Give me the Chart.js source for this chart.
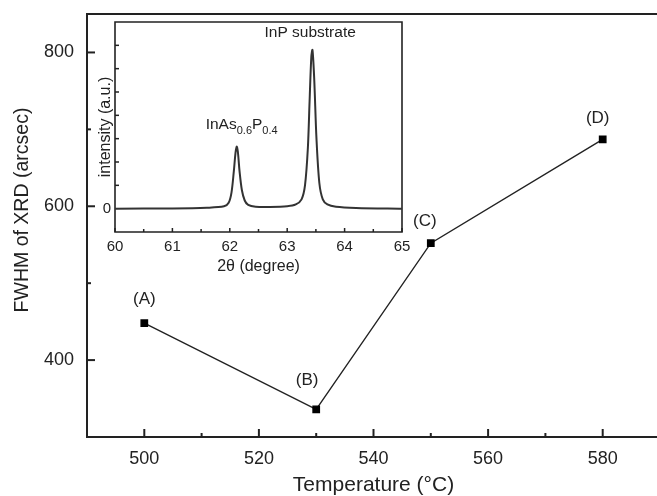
<!DOCTYPE html>
<html>
<head>
<meta charset="utf-8">
<script src="https://cdn.jsdelivr.net/npm/chart.js@4.4.0/dist/chart.umd.min.js"></script>
<style>
  body { margin: 0; background: #fff; overflow: hidden; }
  #wrap { position: relative; width: 660px; height: 496px; }
  #mainBox { position: absolute; left: 0; top: 0; width: 660px; height: 496px; }
  #insetBox { position: absolute; left: 95px; top: 15px; width: 315px; height: 262px; }
</style>
</head>
<body>
<div id="wrap">
  <div id="mainBox"><canvas id="mainChart"></canvas></div>
  <div id="insetBox"><canvas id="insetChart"></canvas></div>
</div>
<script>
// --- main plot data: FWHM vs growth temperature ---
const temps = [500, 530, 550, 580];
const fwhm = [448, 336, 552, 687];
const pointLabels = ["(A)", "(B)", "(C)", "(D)"];

const mainXMajor = [500, 520, 540, 560, 580];
const mainXMinor = [510, 530, 550, 570];
const mainYMajor = [400, 600, 800];
const mainYMinor = [500, 700];

// --- inset data: XRD scan (2theta vs intensity) ---
const twoTheta = [60, 61.0, 61.6, 61.9, 61.98, 62.03, 62.07, 62.1, 62.12, 62.14, 62.17, 62.21, 62.26, 62.32,
  62.45, 62.7, 63.0, 63.15, 63.25, 63.31, 63.36, 63.39, 63.42, 63.44, 63.47, 63.51, 63.56, 63.62, 63.7, 63.85, 64.2, 65];
const intensity = [0, 0.01, 0.04, 0.1, 0.25, 0.7, 1.6, 2.4, 2.66, 2.45, 1.6, 0.8, 0.35, 0.16,
  0.08, 0.07, 0.1, 0.18, 0.4, 1.0, 2.6, 4.6, 6.5, 6.8, 5.6, 3.0, 1.1, 0.4, 0.18, 0.08, 0.03, 0.0];

const insetXMajor = [60, 61, 62, 63, 64, 65];
const insetXMinor = [60.5, 61.5, 62.5, 63.5, 64.5];
const insetYTicks = [1, 2, 3, 4, 5, 6, 7];

const INK = "#222";
const FONT = "'Liberation Sans', Arial, sans-serif";

// keep chart area exactly where the layout padding puts it
const noPad = s => { s.paddingTop = 0; s.paddingBottom = 0; s.paddingLeft = 0; s.paddingRight = 0; };

// draws inward tick marks using the chart's own scales
const inwardTicks = {
  id: "inwardTicks",
  afterDraw(chart, args, o) {
    const ctx = chart.ctx, a = chart.chartArea;
    const xs = chart.scales.x, ys = chart.scales.y;
    ctx.save();
    ctx.strokeStyle = INK;
    ctx.lineWidth = o.width;
    const seg = (x1, y1, x2, y2) => { ctx.beginPath(); ctx.moveTo(x1, y1); ctx.lineTo(x2, y2); ctx.stroke(); };
    o.xMajor.forEach(v => { const p = xs.getPixelForValue(v); seg(p, a.bottom, p, a.bottom - o.majorLen); });
    o.xMinor.forEach(v => { const p = xs.getPixelForValue(v); seg(p, a.bottom, p, a.bottom - o.minorLen); });
    o.yMajor.forEach(v => { const p = ys.getPixelForValue(v); seg(a.left, p, a.left + o.majorLen, p); });
    o.yMinor.forEach(v => { const p = ys.getPixelForValue(v); seg(a.left, p, a.left + o.minorLen, p); });
    ctx.restore();
  }
};

// frame lines (main plot has its right side cut off by the picture)
const frame = {
  id: "frame",
  beforeDatasetsDraw(chart, args, o) {
    const ctx = chart.ctx, a = chart.chartArea;
    ctx.save();
    ctx.strokeStyle = INK;
    ctx.lineWidth = o.width;
    ctx.beginPath();
    if (o.full) {
      ctx.rect(a.left, a.top, a.right - a.left, a.bottom - a.top);
    } else {
      ctx.moveTo(a.right, a.top); ctx.lineTo(a.left, a.top);
      ctx.lineTo(a.left, a.bottom); ctx.lineTo(a.right, a.bottom);
    }
    ctx.stroke();
    ctx.restore();
  }
};

// rotated y title, placed a bit above the middle like the original
const sideTitle = {
  id: "sideTitle",
  afterDraw(chart, args, o) {
    if (!o.text) return;
    const ctx = chart.ctx;
    ctx.save();
    ctx.fillStyle = INK;
    ctx.font = o.size + "px " + FONT;
    ctx.textAlign = "center";
    ctx.textBaseline = "middle";
    ctx.translate(o.x, o.y);
    ctx.rotate(-Math.PI / 2);
    ctx.fillText(o.text, 0, 0);
    ctx.restore();
  }
};

// point labels (A)...(D)
const letterLabels = {
  id: "letterLabels",
  afterDatasetsDraw(chart, args, o) {
    if (!o.texts) return;
    const ctx = chart.ctx;
    const meta = chart.getDatasetMeta(0);
    ctx.save();
    ctx.fillStyle = INK;
    ctx.font = "17px " + FONT;
    ctx.textAlign = "center";
    ctx.textBaseline = "middle";
    meta.data.forEach((pt, i) => {
      const off = o.offsets[i];
      ctx.fillText(o.texts[i], pt.x + off[0], pt.y + off[1]);
    });
    ctx.restore();
  }
};

// peak annotations in the inset
const peakNotes = {
  id: "peakNotes",
  afterDatasetsDraw(chart, args, o) {
    if (!o.on) return;
    const ctx = chart.ctx;
    const xs = chart.scales.x, ys = chart.scales.y;
    ctx.save();
    ctx.fillStyle = INK;
    ctx.textBaseline = "alphabetic";
    ctx.textAlign = "center";
    ctx.font = "15.5px " + FONT;
    ctx.fillText("InP substrate", xs.getPixelForValue(63.4), ys.getPixelForValue(7.35));
    // InAs0.6P0.4 with subscripts
    let x = xs.getPixelForValue(61.58), y = ys.getPixelForValue(3.4);
    ctx.textAlign = "left";
    const parts = [["InAs", 15.5, 0], ["0.6", 11, 5], ["P", 15.5, 0], ["0.4", 11, 5]];
    parts.forEach(p => {
      ctx.font = p[1] + "px " + FONT;
      ctx.fillText(p[0], x, y + p[2]);
      x += ctx.measureText(p[0]).width;
    });
    ctx.restore();
  }
};

Chart.register(inwardTicks, frame, sideTitle, letterLabels, peakNotes);

new Chart(document.getElementById("mainChart"), {
  type: "scatter",
  data: {
    datasets: [{
      data: temps.map((t, i) => ({ x: t, y: fwhm[i] })),
      showLine: true,
      borderColor: INK,
      borderWidth: 1.4,
      pointStyle: "rect",
      pointRadius: 4.5,
      pointBackgroundColor: "#000",
      pointBorderColor: "#000"
    }]
  },
  options: {
    responsive: true,
    maintainAspectRatio: false,
    animation: false,
    layout: { autoPadding: false, padding: { top: 14, right: 0, left: 0, bottom: 0 } },
    plugins: {
      legend: { display: false },
      tooltip: { enabled: false },
      inwardTicks: { xMajor: mainXMajor, xMinor: mainXMinor, yMajor: mainYMajor, yMinor: mainYMinor, majorLen: 8, minorLen: 4, width: 2 },
      frame: { width: 2, full: false },
      sideTitle: { text: "FWHM of XRD (arcsec)", size: 19.5, x: 23, y: 210 },
      letterLabels: { texts: pointLabels, offsets: [[0, -24], [-9, -29], [-6, -22], [-5, -21]] },
      peakNotes: { on: false }
    },
    scales: {
      x: {
        type: "linear", min: 490, max: 590,
        afterFit: s => { s.height = 59; noPad(s); },
        grid: { display: false, drawTicks: false },
        border: { display: false },
        ticks: { callback: v => mainXMajor.includes(v) ? v : "", stepSize: 10, includeBounds: false, autoSkip: false, maxRotation: 0, padding: 11, color: INK, font: { family: FONT, size: 18 } },
        title: { display: true, text: "Temperature (°C)", color: INK, padding: { top: 0, bottom: -2 }, font: { family: FONT, size: 21 } }
      },
      y: {
        type: "linear", min: 300, max: 850,
        afterFit: s => { s.width = 87; noPad(s); },
        grid: { display: false, drawTicks: false },
        border: { display: false },
        ticks: { callback: v => mainYMajor.includes(v) ? v : "", stepSize: 100, includeBounds: false, autoSkip: false, padding: 13, color: INK, font: { family: FONT, size: 18 } },
        title: { display: false }
      }
    }
  }
});

new Chart(document.getElementById("insetChart"), {
  type: "scatter",
  data: {
    datasets: [{
      data: twoTheta.map((t, i) => ({ x: t, y: intensity[i] })),
      showLine: true,
      tension: 0.3,
      borderColor: "#333",
      borderWidth: 2,
      pointRadius: 0
    }]
  },
  options: {
    responsive: true,
    maintainAspectRatio: false,
    animation: false,
    layout: { autoPadding: false, padding: { top: 7, right: 8, left: 0, bottom: 0 } },
    plugins: {
      legend: { display: false },
      tooltip: { enabled: false },
      inwardTicks: { xMajor: insetXMajor, xMinor: insetXMinor, yMajor: insetYTicks, yMinor: [], majorLen: 4, minorLen: 3, width: 1.5 },
      frame: { width: 1.6, full: true },
      sideTitle: {},
      letterLabels: {},
      peakNotes: { on: true }
    },
    scales: {
      x: {
        type: "linear", min: 60, max: 65,
        afterFit: s => { s.height = 45; noPad(s); },
        grid: { display: false, drawTicks: false },
        border: { display: false },
        ticks: { stepSize: 1, maxRotation: 0, padding: 6, color: INK, font: { family: FONT, size: 15 } },
        title: { display: true, text: "2θ (degree)", color: INK, padding: { top: 0, bottom: 1 }, font: { family: FONT, size: 16 } }
      },
      y: {
        type: "linear", min: -1, max: 8,
        afterFit: s => { s.width = 20; noPad(s); },
        grid: { display: false, drawTicks: false },
        border: { display: false },
        ticks: { callback: v => v === 0 ? "0" : "", stepSize: 1, autoSkip: false, padding: 4, color: INK, font: { family: FONT, size: 15 } },
        title: { display: true, text: "intensity (a.u.)", color: INK, padding: { top: 1, bottom: 0 }, font: { family: FONT, size: 16 } }
      }
    }
  }
});
</script>
</body>
</html>
